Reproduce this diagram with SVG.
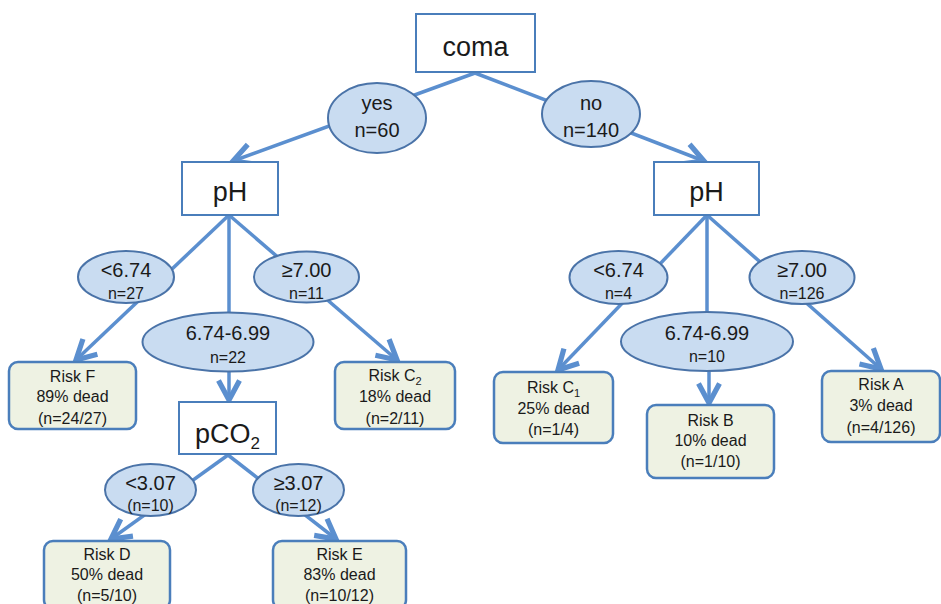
<svg xmlns="http://www.w3.org/2000/svg" width="941" height="604" viewBox="0 0 941 604">
<style>
text{font-family:"Liberation Sans",Arial,sans-serif;fill:#1a1a1a;text-anchor:middle}
.big{font-size:27px}
.mid{font-size:20px}
.sm{font-size:16px}
.rk{font-size:16px}
.box{fill:#ffffff;stroke:#4a7ebb;stroke-width:2}
.ell{fill:#c9dcf1;stroke:#4a73a8;stroke-width:2}
.risk{fill:#eef2e3;stroke:#4a7ebb;stroke-width:2.5}
.con{stroke:#5b8fcf;stroke-width:3.5;fill:none}
</style>
<defs>
<marker id="arr" markerUnits="userSpaceOnUse" markerWidth="30" markerHeight="30" refX="0" refY="0" viewBox="-16 -10 20 20" orient="auto">
<path d="M-13,-7 L0,0 L-13,7" fill="none" stroke="#5b8fcf" stroke-width="3.5"/>
</marker>
</defs>
<rect width="941" height="604" fill="#ffffff"/>
<g id="connectors">
<line class="con" x1="475" y1="73" x2="233" y2="161" marker-end="url(#arr)"/>
<line class="con" x1="475" y1="73" x2="704" y2="161" marker-end="url(#arr)"/>
<line class="con" x1="229" y1="215" x2="76" y2="360" marker-end="url(#arr)"/>
<line class="con" x1="229" y1="215" x2="229" y2="318"/>
<line class="con" x1="229" y1="215" x2="397" y2="360" marker-end="url(#arr)"/>
<line class="con" x1="229" y1="371" x2="229" y2="400" marker-end="url(#arr)"/>
<line class="con" x1="228" y1="455" x2="111" y2="539" marker-end="url(#arr)"/>
<line class="con" x1="228" y1="455" x2="336" y2="539" marker-end="url(#arr)"/>
<line class="con" x1="707" y1="215" x2="558" y2="370" marker-end="url(#arr)"/>
<line class="con" x1="707" y1="215" x2="707" y2="318"/>
<line class="con" x1="707" y1="215" x2="881" y2="369" marker-end="url(#arr)"/>
<line class="con" x1="709" y1="370" x2="709" y2="403" marker-end="url(#arr)"/>
</g>
<g id="coma">
<rect class="box" x="416" y="14" width="119" height="58"/>
<text class="big" x="475.5" y="56">coma</text>
</g>
<g id="yes">
<ellipse class="ell" cx="377" cy="118" rx="49" ry="35"/>
<text class="mid" x="377" y="110">yes</text>
<text class="mid" x="377" y="137">n=60</text>
</g>
<g id="no">
<ellipse class="ell" cx="591" cy="114" rx="49" ry="33"/>
<text class="mid" x="591" y="110">no</text>
<text class="mid" x="591" y="137">n=140</text>
</g>
<g id="ph-left">
<rect class="box" x="182" y="162" width="96" height="53"/>
<text class="big" x="230" y="201">pH</text>
</g>
<g id="ph-right">
<rect class="box" x="654" y="162" width="105" height="53"/>
<text class="big" x="706.5" y="201">pH</text>
</g>
<g id="l-lt674">
<ellipse class="ell" cx="126" cy="277" rx="48" ry="26"/>
<text class="mid" x="126" y="277">&lt;6.74</text>
<text class="sm" x="126" y="299">n=27</text>
</g>
<g id="l-ge700">
<ellipse class="ell" cx="306.5" cy="277" rx="52.5" ry="25.5"/>
<text class="mid" x="306.5" y="277">≥7.00</text>
<text class="sm" x="306.5" y="299">n=11</text>
</g>
<g id="l-mid">
<ellipse class="ell" cx="228" cy="342" rx="85.5" ry="29.5"/>
<text class="mid" x="228" y="340">6.74-6.99</text>
<text class="sm" x="228" y="363">n=22</text>
</g>
<g id="risk-f">
<rect class="risk" x="9" y="362" width="127" height="67" rx="9"/>
<text class="rk" x="72.5" y="382">Risk F</text>
<text class="rk" x="72.5" y="402">89% dead</text>
<text class="rk" x="72.5" y="424">(n=24/27)</text>
</g>
<g id="risk-c2">
<rect class="risk" x="335" y="362" width="120" height="67" rx="9"/>
<text class="rk" x="395" y="381">Risk C<tspan font-size="11" dy="4">2</tspan></text>
<text class="rk" x="395" y="402">18% dead</text>
<text class="rk" x="395" y="424">(n=2/11)</text>
</g>
<g id="pco2">
<rect class="box" x="179" y="402" width="97" height="52"/>
<text class="big" x="227.5" y="443">pCO<tspan font-size="17" dy="6">2</tspan></text>
</g>
<g id="lt307">
<ellipse class="ell" cx="150.5" cy="490" rx="45.5" ry="26"/>
<text class="mid" x="150.5" y="490">&lt;3.07</text>
<text class="sm" x="150.5" y="511">(n=10)</text>
</g>
<g id="ge307">
<ellipse class="ell" cx="298.5" cy="490" rx="45.5" ry="26"/>
<text class="mid" x="298.5" y="490">≥3.07</text>
<text class="sm" x="298.5" y="511">(n=12)</text>
</g>
<g id="risk-d">
<rect class="risk" x="44" y="541" width="126" height="68" rx="9"/>
<text class="rk" x="107" y="560">Risk D</text>
<text class="rk" x="107" y="580">50% dead</text>
<text class="rk" x="107" y="601">(n=5/10)</text>
</g>
<g id="risk-e">
<rect class="risk" x="273" y="541" width="133" height="68" rx="9"/>
<text class="rk" x="339.5" y="560">Risk E</text>
<text class="rk" x="339.5" y="580">83% dead</text>
<text class="rk" x="339.5" y="601">(n=10/12)</text>
</g>
<g id="r-lt674">
<ellipse class="ell" cx="618.5" cy="277.5" rx="49" ry="26.5"/>
<text class="mid" x="618.5" y="277">&lt;6.74</text>
<text class="sm" x="618.5" y="299">n=4</text>
</g>
<g id="r-ge700">
<ellipse class="ell" cx="802" cy="277.5" rx="52.5" ry="26.5"/>
<text class="mid" x="802" y="277">≥7.00</text>
<text class="sm" x="802" y="299">n=126</text>
</g>
<g id="r-mid">
<ellipse class="ell" cx="707" cy="341.5" rx="86" ry="29.5"/>
<text class="mid" x="707" y="340">6.74-6.99</text>
<text class="sm" x="707" y="362">n=10</text>
</g>
<g id="risk-c1">
<rect class="risk" x="494" y="372" width="119" height="71" rx="9"/>
<text class="rk" x="553.5" y="393">Risk C<tspan font-size="11" dy="4">1</tspan></text>
<text class="rk" x="553.5" y="414">25% dead</text>
<text class="rk" x="553.5" y="435">(n=1/4)</text>
</g>
<g id="risk-b">
<rect class="risk" x="647" y="405" width="127" height="73" rx="9"/>
<text class="rk" x="710.5" y="426">Risk B</text>
<text class="rk" x="710.5" y="446">10% dead</text>
<text class="rk" x="710.5" y="467">(n=1/10)</text>
</g>
<g id="risk-a">
<rect class="risk" x="822" y="371" width="118" height="71" rx="9"/>
<text class="rk" x="881" y="390">Risk A</text>
<text class="rk" x="881" y="411">3% dead</text>
<text class="rk" x="881" y="433">(n=4/126)</text>
</g>
</svg>
